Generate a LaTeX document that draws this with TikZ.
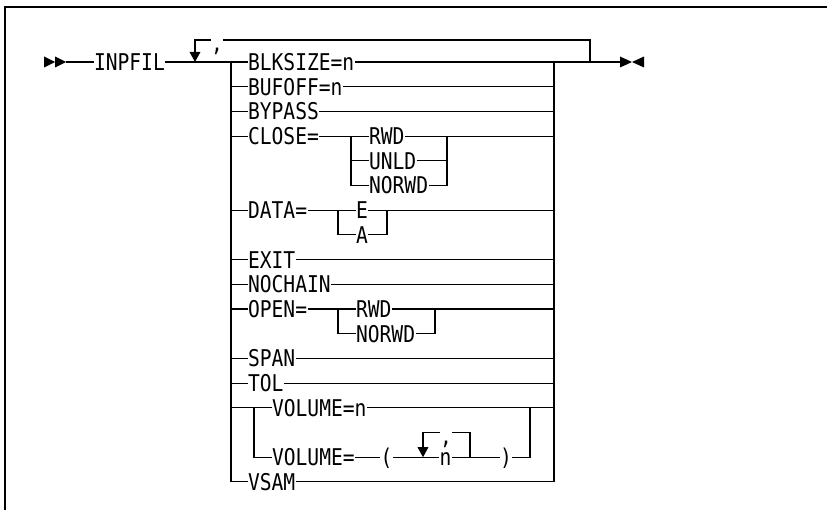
\documentclass[tikz,border=0pt]{standalone}
\usepackage{fontspec}
\newfontfamily\synfont[FakeStretch=0.85]{DejaVu Sans Mono}
\usetikzlibrary{arrows.meta}

\tikzset{
  kw/.style={anchor=west, inner sep=0pt, text height=12.6pt, text depth=0pt,
             font=\synfont\fontsize{17.3pt}{20pt}\selectfont},
  rpt/.style={-{Triangle[width=8pt,length=7.5pt]}}
}

\begin{document}
\begin{tikzpicture}[x=0.75pt, y=-0.75pt, line width=0.8pt]
  \useasboundingbox (0,0) rectangle (827,510);
  \draw[line width=1.5pt] (5,510) -- (5,7.5) -- (827,7.5);

  % start and end marks
  \fill (44,56.5) -- (55,62) -- (44,67.5) -- cycle;
  \fill (55,56.5) -- (66,62) -- (55,67.5) -- cycle;
  \fill (620,56.5) -- (632,62) -- (620,67.5) -- cycle;
  \fill (644,56.5) -- (632,62) -- (644,67.5) -- cycle;
  \coordinate (start) at (66,62);
  \coordinate (stop) at (620,62);
  \coordinate (lb) at (231,62);
  \coordinate (rb) at (554,62);
  \coordinate (lin) at (195,62);
  \coordinate (rin) at (590,62);

  \node[kw] (inpfil) at (93.5,62) {INPFIL};
  \node[kw, anchor=center] (c1) at (217,40) {\raisebox{-2.5pt}{,}};

  % plain keywords
  \node[kw] (blksize) at (247.5,62) {BLKSIZE=n};
  \node[kw] (bufoff) at (247.5,86.7) {BUFOFF=n};
  \node[kw] (bypass) at (247.5,111.4) {BYPASS};
  \node[kw] (exit) at (247.5,259.6) {EXIT};
  \node[kw] (nochain) at (247.5,284.3) {NOCHAIN};
  \node[kw] (span) at (247.5,358.4) {SPAN};
  \node[kw] (tol) at (247.5,383.1) {TOL};
  \node[kw] (vsam) at (247.5,481.9) {VSAM};

  % CLOSE=
  \node[kw] (close) at (247.5,136.1) {CLOSE=};
  \node[kw] (crwd) at (368.5,136.1) {RWD};
  \node[kw] (cunld) at (368.5,160.8) {UNLD};
  \node[kw] (cnorwd) at (368.5,185.5) {NORWD};
  \coordinate (cl) at (351,136.1);
  \coordinate (cr) at (447,136.1);

  % DATA=
  \node[kw] (data) at (247.5,210.2) {DATA=};
  \node[kw] (de) at (355.5,210.2) {E};
  \node[kw] (da) at (355.5,234.9) {A};
  \coordinate (dl) at (338,210.2);
  \coordinate (dr) at (387,210.2);

  % OPEN=
  \node[kw] (open) at (247.5,309) {OPEN=};
  \node[kw] (orwd) at (355.5,309) {RWD};
  \node[kw] (onorwd) at (355.5,333.7) {NORWD};
  \coordinate (ol) at (338,309);
  \coordinate (orr) at (435,309);

  % VOLUME=
  \node[kw] (vol1) at (271.5,407.8) {VOLUME=n};
  \node[kw] (vol2) at (271.5,457.2) {VOLUME=};
  \node[kw, anchor=center] (lpar) at (386.5,457.2) {(};
  \node[kw, anchor=center] (vn) at (445.5,457.2) {n};
  \node[kw, anchor=center] (rpar) at (506,457.2) {)};
  \node[kw, anchor=center] (c2) at (446,432.5) {\raisebox{-2.5pt}{,}};
  \coordinate (vl) at (254,407.8);
  \coordinate (vr) at (530,407.8);
  \coordinate (vin) at (423,457.2);
  \coordinate (vrin) at (470,457.2);

  % main line and repeat
  \draw (start) -- (inpfil);
  \draw (inpfil) -- (blksize);
  \draw (blksize) -- (stop);
  \draw (rin) |- (c1.east);
  \draw[rpt] (c1.west) -| (lin);
  \draw (lb) |- (vsam.west);
  \draw (vsam.east) -| (rb);

  \foreach \k in {bufoff,bypass,exit,nochain,span,tol}
    \draw (\k.west -| lb) -- (\k.west) (\k.east) -- (\k.east -| rb);

  \draw (close.west -| lb) -- (close);
  \draw (close) -- (crwd);
  \draw (crwd) -- (crwd -| rb);
  \draw (cl) |- (cnorwd.west);
  \draw (cunld.west -| cl) -- (cunld);
  \draw (cr) |- (cnorwd.east);
  \draw (cunld) -- (cunld -| cr);

  \draw (data.west -| lb) -- (data);
  \draw (data) -- (de);
  \draw (de) -- (de -| rb);
  \draw (dl) |- (da.west);
  \draw (dr) |- (da.east);

  \draw (open.west -| lb) -- (open);
  \draw (open) -- (orwd);
  \draw (orwd) -- (orwd -| rb);
  \draw (ol) |- (onorwd.west);
  \draw (orr) |- (onorwd.east);

  \draw (vol1.west -| lb) -- (vol1);
  \draw (vol1) -- (vol1 -| rb);
  \draw (vl) |- (vol2);
  \draw (vol2) -- (lpar);
  \draw (lpar) -- (vn);
  \draw (vn) -- (rpar);
  \draw (rpar) -| (vr);
  \draw (vrin) |- (c2.east);
  \draw[rpt] (c2.west) -| (vin);
\end{tikzpicture}
\end{document}
